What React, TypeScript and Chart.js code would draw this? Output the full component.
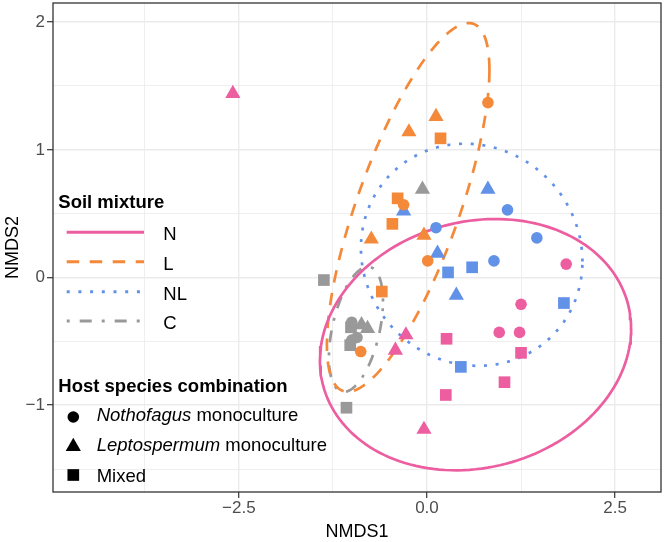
import React, { useEffect, useRef } from 'react';
import { Chart, registerables } from 'chart.js';

Chart.register(...registerables);

const FONT = '"Liberation Sans", Arial, Helvetica, sans-serif';

// ---- categories ----
const soilGroups = ['N', 'L', 'NL', 'C'];
const hostItalic = ['Nothofagus', 'Leptospermum', ''];
const hostPlain = [' monoculture', ' monoculture', 'Mixed'];

// ---- points [NMDS1, NMDS2] ----
const N_nothofagus = [[1.85, 0.105], [1.25, -0.21], [0.96, -0.43], [1.23, -0.43]];
const N_leptospermum = [[-2.58, 1.44], [-0.28, -0.45], [-0.42, -0.57], [-0.04, -1.19]];
const N_mixed = [[0.26, -0.48], [0.25, -0.92], [1.25, -0.59], [1.03, -0.82]];

const L_nothofagus = [[0.81, 1.37], [-0.31, 0.57], [0.01, 0.13], [-0.88, -0.58]];
const L_leptospermum = [[0.12, 1.26], [-0.24, 1.14], [-0.74, 0.3], [-0.04, 0.33]];
const L_mixed = [[0.18, 1.09], [-0.39, 0.62], [-0.46, 0.42], [-0.6, -0.11]];

const NL_nothofagus = [[0.12, 0.39], [1.07, 0.53], [1.46, 0.31], [0.89, 0.13]];
const NL_leptospermum = [[0.81, 0.69], [-0.31, 0.52], [0.14, 0.19], [0.39, -0.14]];
const NL_mixed = [[0.6, 0.08], [0.28, 0.04], [1.82, -0.2], [0.45, -0.7]];

const C_nothofagus = [[-1.0, -0.35], [-1.0, -0.49], [-0.93, -0.47]];
const C_leptospermum = [[-0.06, 0.69], [-0.87, -0.37], [-0.79, -0.4]];
const C_mixed = [[-1.37, -0.02], [-1.07, -1.02], [-1.01, -0.39], [-1.02, -0.53]];

// ---- 95% ellipses: [centre x, centre y, x half-extent, y half-extent, phase] ----
const ellipseN = [0.645, -0.526, 2.068, 0.984, 1.443];
const ellipseL = [-0.25, 0.549, 1.08, 1.444, 0.73];
const ellipseNL = [0.594, 0.178, 1.472, 0.87, 1.631];
const ellipseC = [-0.944, -0.406, 0.359, 0.49, 1.108];

// ---- axes ----
const xRange = [-4.97, 3.11];
const yRange = [-1.68, 2.15];
const xMajorTicks = [-2.5, 0, 2.5];
const xMinorTicks = [-3.75, -1.25, 1.25];
const yMajorTicks = [-1, 0, 1, 2];
const yMinorTicks = [-1.5, -0.5, 0.5, 1.5];

// ---- styles ----
const soilColors = ['#EC5E9F', '#F5893A', '#6291E8', '#999999'];
const soilDashes = [[], [12.5, 10.5], [3, 8.7], [3, 10, 12, 10]];
const shapes = ['circle', 'triangle', 'rect'];
const shapeRadius = [5.8, 8.8, 8.25];

const groupPoints = [
  [N_nothofagus, N_leptospermum, N_mixed],
  [L_nothofagus, L_leptospermum, L_mixed],
  [NL_nothofagus, NL_leptospermum, NL_mixed],
  [C_nothofagus, C_leptospermum, C_mixed],
];
const groupEllipses = [ellipseN, ellipseL, ellipseNL, ellipseC];

function ellipseCurve(p: number[]) {
  const [cx, cy, rx, ry, ph] = p;
  const out: { x: number; y: number }[] = [];
  const n = 160;
  for (let i = 0; i <= n; i++) {
    const t = (2 * Math.PI * i) / n;
    out.push({ x: cx + rx * Math.cos(t), y: cy + ry * Math.cos(t - ph) });
  }
  return out;
}

const fmt = (v: number, d: number) => (v < 0 ? '\u2212' : '') + Math.abs(v).toFixed(d);

const LEG = 18.5;

const decorPlugin = {
  id: 'ggDecor',
  afterDraw(chart: any) {
    const ctx = chart.ctx as CanvasRenderingContext2D;
    const a = chart.chartArea;
    ctx.save();
    // panel border
    ctx.strokeStyle = '#333333';
    ctx.lineWidth = 1.3;
    ctx.setLineDash([]);
    ctx.strokeRect(a.left, a.top, a.right - a.left, a.bottom - a.top);

    // axis titles
    ctx.fillStyle = '#000000';
    ctx.font = `18px ${FONT}`;
    ctx.textAlign = 'center';
    ctx.textBaseline = 'alphabetic';
    ctx.fillText('NMDS1', (a.left + a.right) / 2, 536.5);
    ctx.save();
    ctx.translate(18.3, (a.top + a.bottom) / 2);
    ctx.rotate(-Math.PI / 2);
    ctx.fillText('NMDS2', 0, 0);
    ctx.restore();

    // legend: soil mixture
    ctx.textAlign = 'left';
    ctx.font = `bold ${LEG}px ${FONT}`;
    ctx.fillText('Soil mixture', 58.3, 208.3);
    const lineY = [232.3, 261.7, 291.7, 321];
    const labY = [240, 269.5, 299.5, 329.3];
    soilGroups.forEach((g, i) => {
      ctx.beginPath();
      ctx.strokeStyle = soilColors[i];
      ctx.lineWidth = 3;
      ctx.lineCap = 'butt';
      ctx.setLineDash(soilDashes[i]);
      ctx.moveTo(66.7, lineY[i]);
      ctx.lineTo(144, lineY[i]);
      ctx.stroke();
      ctx.setLineDash([]);
      ctx.fillStyle = '#000000';
      ctx.font = `${LEG}px ${FONT}`;
      ctx.fillText(g, 163.3, labY[i]);
    });

    // legend: host species
    ctx.font = `bold ${LEG}px ${FONT}`;
    ctx.fillText('Host species combination', 58.3, 391.5);
    const markY = [417, 446.6, 475];
    const hostY = [421, 450.5, 481.5];
    const mx = 73.3;
    ctx.fillStyle = '#000000';
    ctx.beginPath();
    ctx.arc(mx, markY[0], shapeRadius[0], 0, Math.PI * 2);
    ctx.fill();
    const r = shapeRadius[1];
    ctx.beginPath();
    ctx.moveTo(mx, markY[1] - r);
    ctx.lineTo(mx + r * Math.sin((2 * Math.PI) / 3), markY[1] + r / 2);
    ctx.lineTo(mx - r * Math.sin((2 * Math.PI) / 3), markY[1] + r / 2);
    ctx.closePath();
    ctx.fill();
    const s = shapeRadius[2] * Math.SQRT1_2;
    ctx.fillRect(mx - s, markY[2] - s, 2 * s, 2 * s);

    hostItalic.forEach((it, i) => {
      let x = 96.7;
      if (it) {
        ctx.font = `italic ${LEG}px ${FONT}`;
        ctx.fillText(it, x, hostY[i]);
        x += ctx.measureText(it).width;
      }
      ctx.font = `${LEG}px ${FONT}`;
      ctx.fillText(hostPlain[i], x, hostY[i]);
    });
    ctx.restore();
  },
};

export default function App() {
  const ref = useRef<HTMLCanvasElement | null>(null);
  useEffect(() => {
    document.body.style.margin = '0';
    const canvas = ref.current;
    if (!canvas) return;

    const datasets: any[] = [];
    groupPoints.forEach((hosts, g) => {
      hosts.forEach((pts, h) => {
        datasets.push({
          label: `${soilGroups[g]}-${h}`,
          data: pts.map(([x, y]) => ({ x, y })),
          pointStyle: shapes[h],
          pointRadius: shapeRadius[h],
          backgroundColor: soilColors[g],
          borderColor: soilColors[g],
          borderWidth: 0,
          showLine: false,
          order: 0,
        });
      });
    });
    groupEllipses.forEach((p, g) => {
      datasets.push({
        label: `ellipse-${soilGroups[g]}`,
        data: ellipseCurve(p),
        showLine: true,
        borderColor: soilColors[g],
        borderWidth: 2.7,
        borderDash: soilDashes[g],
        pointRadius: 0,
        fill: false,
        tension: 0,
        order: 1,
      });
    });

    const xMaj = (v: number) => xMajorTicks.some((m) => Math.abs(m - v) < 1e-9);
    const yMaj = (v: number) => yMajorTicks.some((m) => Math.abs(m - v) < 1e-9);

    const chart = new Chart(canvas, {
      type: 'scatter',
      data: { datasets },
      options: {
        responsive: false,
        animation: false,
        events: [],
        layout: { padding: { top: 3, right: 3, left: 0, bottom: 0 }, autoPadding: false },
        plugins: { legend: { display: false }, tooltip: { enabled: false } },
        scales: {
          x: {
            type: 'linear',
            min: xRange[0],
            max: xRange[1],
            afterBuildTicks: (sc: any) => {
              sc.ticks = [...xMajorTicks, ...xMinorTicks].sort((a, b) => a - b).map((v) => ({ value: v }));
            },
            afterFit: (sc: any) => {
              sc.height = 50;
              sc.paddingLeft = 0;
              sc.paddingRight = 0;
            },
            ticks: {
              autoSkip: false,
              maxRotation: 0,
              padding: 0,
              color: '#4D4D4D',
              font: { family: FONT, size: 17 },
              callback: (v: any) => (xMaj(Number(v)) ? fmt(Number(v), 1) : ''),
            },
            grid: {
              color: '#EBEBEB',
              lineWidth: (c: any) => (c.tick && xMaj(c.tick.value) ? 1.4 : 0.8),
              tickLength: 6,
              tickWidth: 1.2,
              tickColor: (c: any) => (c.tick && xMaj(c.tick.value) ? '#333333' : 'rgba(0,0,0,0)'),
            },
            border: { display: false },
          },
          y: {
            type: 'linear',
            min: yRange[0],
            max: yRange[1],
            afterBuildTicks: (sc: any) => {
              sc.ticks = [...yMajorTicks, ...yMinorTicks].sort((a, b) => a - b).map((v) => ({ value: v }));
            },
            afterFit: (sc: any) => {
              sc.width = 53;
              sc.paddingTop = 0;
              sc.paddingBottom = 0;
            },
            ticks: {
              autoSkip: false,
              padding: 2,
              color: '#4D4D4D',
              font: { family: FONT, size: 17 },
              callback: (v: any) => (yMaj(Number(v)) ? fmt(Number(v), 0) : ''),
            },
            grid: {
              color: '#EBEBEB',
              lineWidth: (c: any) => (c.tick && yMaj(c.tick.value) ? 1.4 : 0.8),
              tickLength: 6,
              tickWidth: 1.2,
              tickColor: (c: any) => (c.tick && yMaj(c.tick.value) ? '#333333' : 'rgba(0,0,0,0)'),
            },
            border: { display: false },
          },
        },
      },
      plugins: [decorPlugin],
    } as any);
    return () => chart.destroy();
  }, []);

  return (
    <div style={{ width: 664, height: 542, background: '#ffffff' }}>
      <canvas ref={ref} width={664} height={542} style={{ display: 'block' }} />
    </div>
  );
}
